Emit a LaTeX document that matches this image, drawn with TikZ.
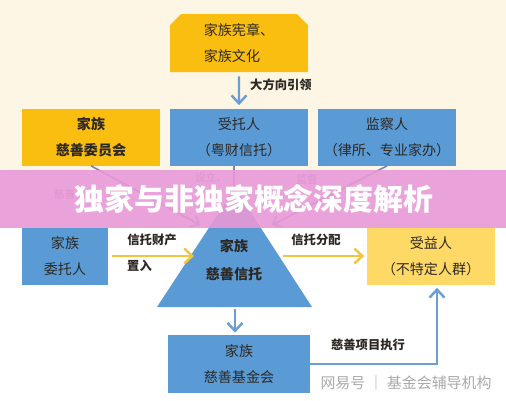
\documentclass[tikz,border=0pt]{standalone}
\usepackage{fontspec}
\newfontfamily\cjk{Noto Sans CJK SC}
\usetikzlibrary{arrows.meta, shapes.misc}

\definecolor{boxorange}{RGB}{249,190,16}
\definecolor{boxblue}{RGB}{91,155,213}
\definecolor{boxyellow}{RGB}{255,217,102}
\definecolor{bgcream}{RGB}{253,246,228}
\definecolor{bannerpink}{RGB}{232,152,214}
\definecolor{linkgray}{RGB}{122,132,178}
\definecolor{labelgray}{RGB}{125,105,145}
\definecolor{arrowgold}{RGB}{240,198,60}
\definecolor{arrowblue}{RGB}{108,158,210}
\definecolor{txtdark}{RGB}{45,40,35}
\definecolor{markgray}{RGB}{170,170,170}

\begin{document}
\begin{tikzpicture}[x=0.02cm, y=-0.02cm,
  box/.style={rectangle, inner sep=0pt, minimum width=2.76cm,
    minimum height=1.14cm, align=center, text=txtdark,
    font=\cjk\fontsize{8}{14.8}\selectfont},
  orangebox/.style={box, fill=boxorange, font=\cjk\bfseries\fontsize{8}{14.8}\selectfont},
  bluebox/.style={box, fill=boxblue},
  yellowbox/.style={box, fill=boxyellow},
  flowlabel/.style={text=txtdark, font=\cjk\bfseries\fontsize{7}{9}\selectfont},
  hiddenlabel/.style={text=labelgray, font=\cjk\fontsize{6}{8}\selectfont},
  bluearrow/.style={draw=arrowblue, line width=1.4pt, -{Straight Barb[length=1.6mm, width=3mm]}},
  goldarrow/.style={draw=arrowgold, line width=1.4pt, -{Straight Barb[length=1.6mm, width=3mm]}},
  linkline/.style={draw=linkgray, line width=0.9pt, -{Straight Barb[length=1.4mm, width=2.6mm]}}]

\useasboundingbox (0,0) rectangle (506,400);
\fill[bgcream] (0,0) rectangle (506,170);
\fill[white] (0,228) rectangle (506,400);

% top row
\node[box, fill=boxorange, chamfered rectangle, chamfered rectangle corners={north west, north east},
  chamfered rectangle xsep=0.12cm, align=left, minimum height=1.16cm] (charter) at (239,43) {家族宪章、\\家族文化};
\node[orangebox] (committee) at (91,137) {家族\\慈善委员会};
\node[bluebox] (trustee) at (239,137) {受托人\\（粤财信托）};
\node[bluebox] (supervisor) at (387,137) {监察人\\（律所、专业家办）};

\draw[bluearrow, shorten <=0.08cm, shorten >=0.06cm] (charter) -- (trustee);
\node[flowlabel, anchor=west] (guide) at (244,85) {大方向引领};

% trust triangle
\coordinate (apex) at (235,188);
\coordinate (baseL) at (157,307);
\coordinate (baseR) at (312,307);
\fill[boxblue] (baseL) -- (apex) -- (baseR) -- cycle;

\coordinate (inL) at (200,225);
\coordinate (inM) at (234,206);
\coordinate (inR) at (272,225);
\draw[linkline] (committee.south) -- (inL);
\draw[linkline] ([xshift=-0.1cm]trustee.south) -- (inM);
\draw[linkline] (supervisor.south) -- (inR);
\node[hiddenlabel] (setup) at (211,177) {设立、};
\node[hiddenlabel, anchor=west] (advise) at (48,194) {慈善};
\node[hiddenlabel] (oversee) at (307,179) {监督};

% banner
\fill[bannerpink, opacity=0.9] (0,170) rectangle (506,228);
\node[text=white, font=\cjk\bfseries\fontsize{17}{20}\selectfont] (headline) at (254,199) {独家与非独家概念深度解析};

% middle row
\node[bluebox, minimum width=1.72cm] (settlor) at (65,256) {家族\\委托人};
\node[text=txtdark, align=center, font=\cjk\bfseries\fontsize{8}{15.5}\selectfont] (trust) at (234,260) {家族\\慈善信托};
\node[yellowbox, minimum width=2.58cm] (beneficiary) at (431,256) {受益人\\（不特定人群）};

\coordinate (trustL) at (194,256);
\coordinate (trustR) at (283,256);
\draw[goldarrow, shorten <=0.08cm] (settlor.east) -- (trustL);
\draw[goldarrow, shorten >=0.04cm] (trustR) -- (beneficiary.west);
\node[flowlabel] (asset) at (152,240) {信托财产};
\node[flowlabel, anchor=west] (inject) at (121,266) {置入};
\node[flowlabel] (payout) at (316,240) {信托分配};

% bottom row
\node[bluebox, minimum width=2.84cm, minimum height=1.16cm] (foundation) at (239,364) {家族\\慈善基金会};
\coordinate (baseM) at (235,309);
\draw[bluearrow, shorten >=0.04cm] (baseM) -- (baseM |- foundation.north);
\draw[bluearrow, shorten >=0.06cm] (foundation.east) -| ([xshift=0.12cm]beneficiary.south);
\node[flowlabel] (execute) at (368,345) {慈善项目执行};

\node[text=markgray, font=\cjk\fontsize{8.5}{10}\selectfont] (mark) at (406,383) {网易号 ｜ 基金会辅导机构};
\end{tikzpicture}
\end{document}
